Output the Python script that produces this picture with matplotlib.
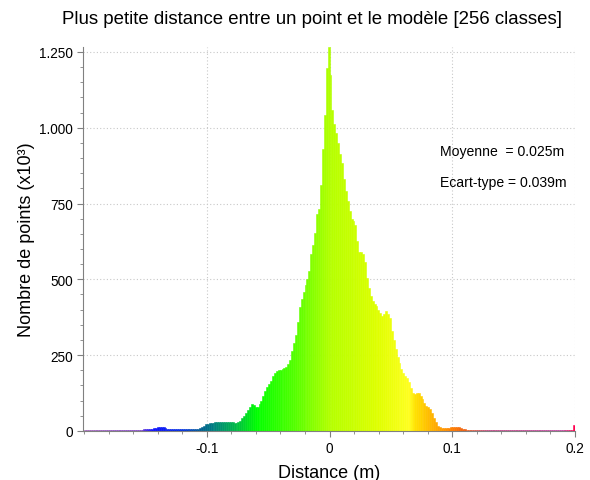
import numpy as np
import matplotlib
matplotlib.use('Agg')
import matplotlib.pyplot as plt
from matplotlib.colors import LinearSegmentedColormap
from matplotlib.ticker import MultipleLocator

plt.rcParams['font.family'] = ['Liberation Sans', 'DejaVu Sans']

# histogram : 256 classes entre -0.2 et 0.2 m (nombre de points x10^3)
x_min = -0.2
x_max = 0.2
n_classes = 256
counts = [
    2, 2, 2, 2, 2, 2, 2, 2, 2, 2, 2, 2, 2, 2, 2, 2,
    2, 2, 2, 2, 2, 2, 2, 2, 2, 2, 2, 2, 3, 3, 4, 5,
    5, 6, 6, 7, 9, 11, 13, 14, 14, 12, 9, 7, 6, 5, 5, 5,
    5, 5, 5, 5, 5, 5, 5, 6, 6, 6, 7, 8, 10, 14, 18, 22,
    24, 25, 26, 27, 28, 29, 30, 30, 31, 31, 30, 30, 29, 28, 27, 27,
    29, 34, 42, 50, 60, 70, 80, 88, 87, 79, 80, 88, 100, 115, 132, 144,
    155, 165, 180, 190, 197, 200, 202, 204, 207, 212, 220, 235, 265, 290, 315, 360,
    408, 436, 458, 480, 502, 529, 584, 614, 652, 716, 733, 810, 931, 1041, 1197, 1266,
    1175, 1059, 1013, 982, 949, 914, 884, 832, 790, 757, 724, 700, 691, 678, 628, 590,
    590, 584, 557, 505, 470, 445, 428, 419, 412, 400, 388, 380, 386, 395, 386, 372,
    330, 300, 270, 245, 225, 205, 192, 182, 175, 160, 142, 125, 122, 126, 125, 115,
    104, 92, 84, 78, 72, 60, 42, 28, 18, 13, 10, 9, 9, 10, 11, 12,
    13, 14, 14, 13, 11, 8, 5, 4, 3, 3, 3, 2, 2, 2, 2, 2,
    2, 2, 2, 2, 2, 2, 2, 2, 2, 2, 2, 2, 2, 2, 2, 2,
    2, 2, 2, 2, 2, 2, 2, 2, 2, 2, 2, 2, 2, 2, 2, 2,
    2, 2, 2, 2, 2, 2, 2, 2, 2, 2, 2, 2, 2, 2, 2, 20,
]
moyenne = 0.025
ecart_type = 0.039
y_ticks = [0, 250, 500, 750, 1000, 1250]
y_tick_labels = ['0', '250', '500', '750', '1.000', '1.250']
x_ticks = [-0.1, 0, 0.1, 0.2]
x_tick_labels = ['-0.1', '0', '0.1', '0.2']

# echelle de couleurs (position en m -> couleur)
scale_pos = [-0.2, -0.155, -0.145, -0.12, -0.105, -0.095, -0.075, -0.06, -0.03,
             0.0, 0.04, 0.065, 0.07, 0.085, 0.1, 0.11, 0.13, 0.19, 0.2]
scale_col = ['#a060b8', '#8040c8', '#1010ff', '#0030e0', '#006090', '#008080',
             '#00c040', '#00ff00', '#50ff00', '#b4ff00', '#e0ff00', '#ffff20',
             '#ffe000', '#ffb000', '#ff8000', '#f06010', '#c04080', '#c040a0',
             '#ff0050']
stops = [(p - x_min) / (x_max - x_min) for p in scale_pos]
cmap = LinearSegmentedColormap.from_list('bgyr', list(zip(stops, scale_col)))

width = (x_max - x_min) / n_classes
centers = x_min + width * (np.arange(n_classes) + 0.5)
colors = cmap((centers - x_min) / (x_max - x_min))

fig = plt.figure(figsize=(5.9, 4.81), dpi=100)
ax = fig.add_axes([0.1407, 0.1019, 0.8339, 0.7983])

ax.bar(centers, counts, width=width, color=colors, edgecolor=colors,
       linewidth=0.4, zorder=2)

ax.set_xlim(-0.2008, 0.2)
ax.set_ylim(0, 1266)
ax.set_xticks(x_ticks)
ax.set_xticklabels(x_tick_labels)
ax.set_yticks(y_ticks)
ax.set_yticklabels(y_tick_labels)
ax.xaxis.set_minor_locator(MultipleLocator(0.02))
ax.yaxis.set_minor_locator(MultipleLocator(50))
ax.grid(True, which='major', linestyle=(0, (1, 2)), color='#c8c8c8', linewidth=0.8, zorder=0)
ax.set_axisbelow(True)

for s in ['top', 'right']:
    ax.spines[s].set_visible(False)
for s in ['left', 'bottom']:
    ax.spines[s].set_color('#808080')
    ax.spines[s].set_linewidth(0.8)
ax.tick_params(which='major', direction='out', length=4, color='#808080',
               labelsize=9.8, labelcolor='black')
ax.tick_params(which='minor', direction='out', length=2.5, color='#808080')

fig.text(312 / 590, 1 - 20 / 481,
         'Plus petite distance entre un point et le modèle [256 classes]',
         fontsize=13.4, ha='center', va='center')
ax.set_xlabel('Distance (m)', fontsize=13, labelpad=6)
ax.set_ylabel('Nombre de points (x10³)', fontsize=13, labelpad=3)

ax.text(0.0902, 924, 'Moyenne  = %.3fm' % moyenne, fontsize=10.1, ha='left', va='center')
ax.text(0.0902, 822, 'Ecart-type = %.3fm' % ecart_type, fontsize=10.1, ha='left', va='center')

fig.savefig('out.png', dpi=100)
